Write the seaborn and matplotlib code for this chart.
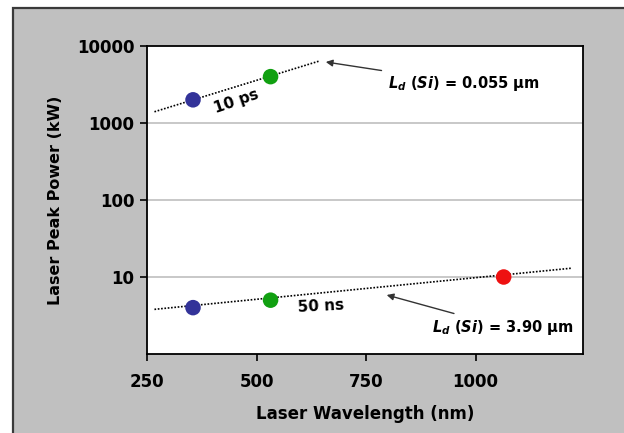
import matplotlib
matplotlib.use("Agg")
import matplotlib.pyplot as plt
from matplotlib.patches import Rectangle
import seaborn as sns
import pandas as pd

# data
wavelength = [355, 532, 1064]
ps_power = [2000, 4000]
ns_power = [4, 5, 10]
point_colors = ["#333399", "#11a011", "#ee1111"]

# trendline end points (exponential fits as drawn)
ps_trend_x = [267, 644]
ps_trend_y = [1400, 6400]
ns_trend_x = [267, 1218]
ns_trend_y = [3.8, 13.0]

x_ticks = [250, 500, 750, 1000]
y_ticks = [10, 100, 1000, 10000]

sns.set_style("white")
plt.rcParams["font.family"] = ["DejaVu Sans"]
plt.rcParams["font.weight"] = "bold"
plt.rcParams["text.color"] = "black"
plt.rcParams["axes.labelcolor"] = "black"
plt.rcParams["xtick.color"] = "black"
plt.rcParams["ytick.color"] = "black"
plt.rcParams["mathtext.fontset"] = "custom"
plt.rcParams["mathtext.it"] = "DejaVu Sans:italic:bold"
plt.rcParams["mathtext.rm"] = "DejaVu Sans:bold"

fig = plt.figure(figsize=(6.24, 4.33), dpi=100, facecolor="white")
# grey chart area with dark frame
fig.patches.append(Rectangle((13 / 624, -0.1), 1.2, (433 - 8) / 433 + 0.1,
                             transform=fig.transFigure, facecolor="#c0c0c0",
                             edgecolor="#3a3a3a", linewidth=1.6, zorder=-5))

ax = fig.add_axes([147 / 624, (433 - 354) / 433, 436 / 624, 308 / 433])
ax.set_zorder(2)
ax.set_facecolor("white")

df_ps = pd.DataFrame({"x": wavelength[:2], "y": ps_power, "c": point_colors[:2]})
df_ns = pd.DataFrame({"x": wavelength, "y": ns_power, "c": point_colors})
df_ps_tr = pd.DataFrame({"x": ps_trend_x, "y": ps_trend_y})
df_ns_tr = pd.DataFrame({"x": ns_trend_x, "y": ns_trend_y})

ax.set_yscale("log")

for d in (df_ps_tr, df_ns_tr):
    sns.lineplot(data=d, x="x", y="y", ax=ax, color="black", linewidth=1.2,
                 linestyle=(0, (1, 1)), zorder=3)

for d in (df_ps, df_ns):
    sns.scatterplot(data=d, x="x", y="y", hue="c", palette=dict(zip(d["c"], d["c"])),
                    s=125, edgecolor="none", legend=False, ax=ax, zorder=4)

ax.set_xlim(250, 1245)
ax.set_ylim(1, 10000)
ax.set_xticks(x_ticks)
ax.set_xticklabels([str(v) for v in x_ticks])
ax.set_yticks(y_ticks)
ax.set_yticklabels([str(v) for v in y_ticks])
ax.yaxis.set_minor_locator(matplotlib.ticker.NullLocator())

for yv in y_ticks[:-1]:
    ax.axhline(yv, color="#c4c4c4", linewidth=1.3, zorder=1)

for s in ax.spines.values():
    s.set_color("black")
    s.set_linewidth(1.3)

ax.tick_params(axis="both", which="major", direction="out", length=5, width=1.2,
               color="black", labelcolor="black", labelsize=12, bottom=True, left=True)
ax.tick_params(axis="x", pad=9)
ax.tick_params(axis="y", pad=4)
for lab in ax.get_xticklabels() + ax.get_yticklabels():
    lab.set_fontweight("bold")

ax.set_xlabel("Laser Wavelength (nm)", fontsize=12, fontweight="bold", labelpad=10)
ax.set_ylabel("Laser Peak Power (kW)", fontsize=11.5, fontweight="bold", labelpad=10)

ax.text(453, 1930, "10 ps", rotation=19, ha="center", va="center",
        fontsize=11, fontweight="bold")
ax.text(648, 4.2, "50 ns", rotation=3, ha="center", va="center",
        fontsize=11, fontweight="bold")

ax.annotate(r"$L_d$ $(Si)$ = 0.055 µm", xy=(658, 6200), xytext=(799, 3300),
            ha="left", va="center", fontsize=10.5, fontweight="bold",
            arrowprops=dict(arrowstyle="-|>", color="#333333", lw=1, mutation_scale=10,
                            shrinkA=2, shrinkB=0))
ax.annotate(r"$L_d$ $(Si)$ = 3.90 µm", xy=(797, 5.84), xytext=(901, 2.24),
            ha="left", va="center", fontsize=10.5, fontweight="bold",
            arrowprops=dict(arrowstyle="-|>", color="#333333", lw=1, mutation_scale=10,
                            shrinkA=2, shrinkB=0))

fig.savefig("out.png", dpi=100)
